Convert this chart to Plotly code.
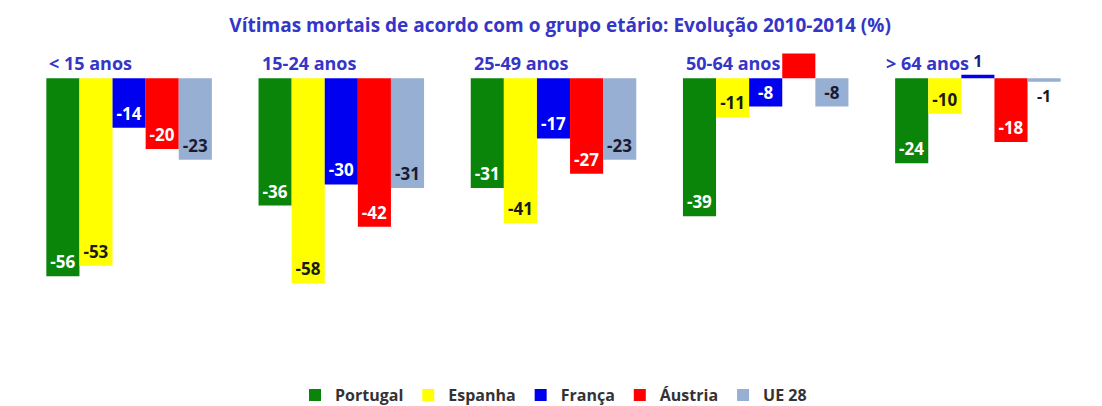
import plotly.graph_objects as go

title = "Vítimas mortais de acordo com o grupo etário: Evolução 2010-2014 (%)"
age_groups = ["< 15 anos", "15-24 anos", "25-49 anos", "50-64 anos", "> 64 anos"]

portugal = [-56, -36, -31, -39, -24]
espanha = [-53, -58, -41, -11, -10]
franca = [-14, -30, -17, -8, 1]
austria = [-20, -42, -27, 7, -18]
ue28 = [-23, -31, -23, -8, -1]

series_names = ["Portugal", "Espanha", "França", "Áustria", "UE 28"]
series_values = [portugal, espanha, franca, austria, ue28]
bar_colors = ["#0a850a", "#ffff00", "#0000f0", "#ff0000", "#97afd2"]
inside_label_colors = ["#ffffff", "#1a1a1a", "#ffffff", "#ffffff", "#1a1a33"]
outside_label_colors = ["#1a1a1a", "#1a1a1a", "#1a1a80", "#1a1a1a", "#1a1a1a"]
# label of the positive Austria bar (50-64 anos) is not visible in the source
hidden_labels = {("Áustria", "50-64 anos")}

FONT = "Open Sans"
fig = go.Figure()
for name, vals, col, icol, ocol in zip(series_names, series_values, bar_colors,
                                       inside_label_colors, outside_label_colors):
    in_cols = [col if (name, g) in hidden_labels else icol for g in age_groups]
    fig.add_trace(go.Bar(
        name=name, x=age_groups, y=vals, marker_color=col, marker_line_width=0,
        text=[f"{v:g}" for v in vals],
        textposition=["inside" if abs(v) >= 3 else "outside" for v in vals],
        textangle=0, constraintext="none", insidetextanchor="end",
        insidetextfont=dict(family=FONT, size=17, color=in_cols, weight="bold"),
        outsidetextfont=dict(family=FONT, size=16, color=ocol, weight="bold"),
        cliponaxis=False,
    ))

label_shift = [0, 0, 0, 0, -12]
for i, g in enumerate(age_groups):
    fig.add_annotation(x=i - 0.385, y=0, xref="x", yref="y", text=f"<b>{g}</b>",
                       showarrow=False, xanchor="left", yanchor="bottom", yshift=1,
                       xshift=label_shift[i],
                       font=dict(family=FONT, size=18, color="#3535c8"))

fig.update_layout(
    width=1102, height=406,
    paper_bgcolor="white", plot_bgcolor="white",
    margin=dict(l=15, r=26, t=42, b=74, autoexpand=False),
    barmode="group", bargap=0.22, bargroupgap=0,
    title=dict(text=f"<b>{title}</b>", x=0.501, xanchor="center", y=0.958, yanchor="middle",
               font=dict(family=FONT, size=19, color="#3535c8")),
    xaxis=dict(visible=False),
    yaxis=dict(visible=False, range=[-74, 8]),
    showlegend=True,
    legend=dict(orientation="h", x=0.5, xanchor="center", y=-0.19, yanchor="middle",
                font=dict(family=FONT, size=16, color="#333333", weight="bold"),
                itemwidth=30, traceorder="normal"),
)
fig.write_html("out.html")
